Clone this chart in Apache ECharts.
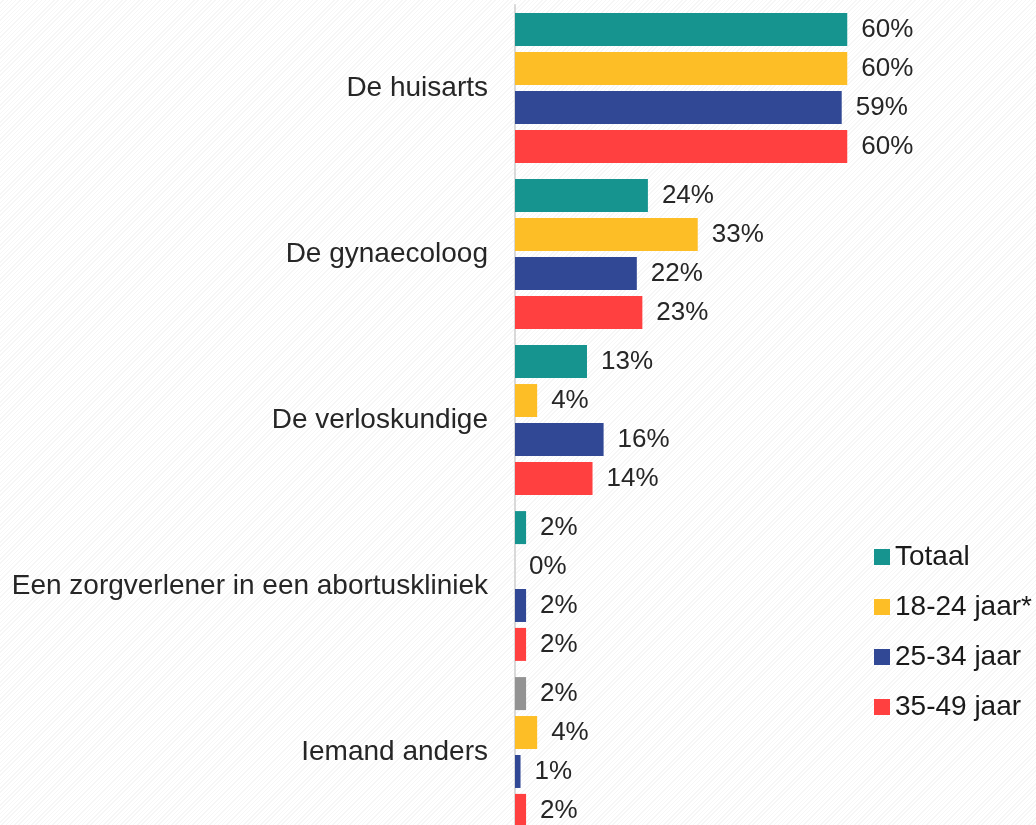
<!DOCTYPE html>
<html>
<head>
<meta charset="utf-8">
<script src="https://cdn.jsdelivr.net/npm/echarts@6/dist/echarts.min.js"></script>
<style>
  html, body { margin: 0; padding: 0; overflow: hidden; }
  body {
    background: repeating-linear-gradient(135deg, #ffffff 0 2px, #f6f6f6 2px 3px);
  }
  #chart { width: 1036px; height: 840px; }
</style>
</head>
<body>
<div id="chart"></div>
<script>
const categories = [
  'De huisarts',
  'De gynaecoloog',
  'De verloskundige',
  'Een zorgverlener in een abortuskliniek',
  'Iemand anders',
]
const seriesNames = ['Totaal', '18-24 jaar*', '25-34 jaar', '35-49 jaar']
const totaal = [60, 24, 13, 2, 2]
const jaar18_24 = [60, 33, 4, 0, 4]
const jaar25_34 = [59, 22, 16, 2, 1]
const jaar35_49 = [60, 23, 14, 2, 2]

const colorList = ['#16948f', '#fdbe26', '#314895', '#ff4040']
const fontFamily = '"Liberation Sans", Arial, sans-serif'

const el = document.getElementById('chart')
const myChart = echarts.init(el)

function makeSeries(name, values, idx) {
  return {
    name,
    type: 'bar',
    barWidth: 33,
    barGap: '18%',
    data: values.map((v, i) => {
      // 'Iemand anders' Totaal bar is drawn grey in the original
      if (idx === 0 && i === 4) return { value: v, itemStyle: { color: '#939393' } }
      return v
    }),
    label: {
      show: true,
      position: 'right',
      distance: 14,
      formatter: '{c}%',
      fontSize: 26,
      fontFamily,
      color: '#262626',
    },
  }
}

const option = {
  backgroundColor: 'transparent',
  color: colorList,
  animation: false,
  legend: {
    orient: 'vertical',
    left: 874,
    top: 543,
    padding: 0,
    icon: 'rect',
    itemWidth: 16,
    itemHeight: 16,
    itemGap: 22,
    textStyle: {
      fontSize: 28,
      lineHeight: 28,
      fontFamily,
      color: '#1a1a1a',
    },
    data: seriesNames,
  },
  grid: {
    left: 515,
    right: 78,
    top: 5,
    height: 830,
  },
  xAxis: {
    type: 'value',
    min: 0,
    max: 80,
    show: false,
    splitLine: { show: false },
  },
  yAxis: {
    type: 'category',
    inverse: true,
    data: categories,
    axisLine: { show: true, lineStyle: { color: '#d9d9d9', width: 2 } },
    axisTick: { show: false },
    axisLabel: {
      margin: 27,
      fontSize: 28,
      fontFamily,
      color: '#262626',
    },
  },
  series: [
    makeSeries(seriesNames[0], totaal, 0),
    makeSeries(seriesNames[1], jaar18_24, 1),
    makeSeries(seriesNames[2], jaar25_34, 2),
    makeSeries(seriesNames[3], jaar35_49, 3),
  ],
}
myChart.setOption(option, true)
</script>
</body>
</html>
